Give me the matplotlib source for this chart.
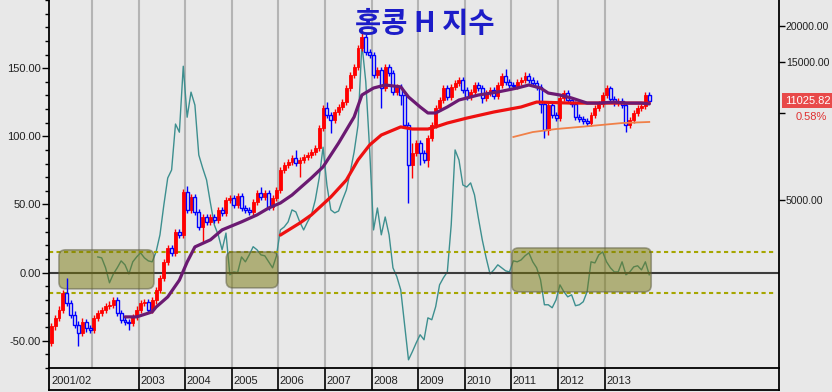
import numpy as np
import pandas as pd
import matplotlib
matplotlib.use('Agg')
import matplotlib.pyplot as plt
from matplotlib.patches import FancyBboxPatch, Rectangle

# ---------------- data ----------------
months = pd.period_range('2001-02', '2013-12', freq='M')

opens = [1600, 1830, 1950, 2080, 2380, 2200, 2000, 1850, 1730, 1890, 1800,
         1780, 1950, 2030, 2080, 2150, 2170, 2250, 2030, 1920, 1890, 1880, 1970,
         2080, 2200, 2220, 2080, 2250, 2440, 2690, 3050, 3410, 3280, 3870, 3780,
         5330, 4620, 5120, 4540, 4030, 4370, 4200, 4370, 4260, 4620, 4510, 5000,
         5080, 4810, 5160, 4690, 4620, 4540, 4920, 5290, 5120, 5290, 4730, 5080,
         5420, 6350, 6610, 6770, 6990, 6720, 6880, 7050, 7160, 7330, 7560, 8870,
         10400, 9840, 9460, 10080, 10490, 10910, 12200, 13540, 14430, 16780, 18320, 16260,
         15880, 13540, 14090, 12200, 14430, 13750, 11820, 12310, 11540, 9090, 6610, 7270,
         7870, 7270, 6880, 8190, 9090, 10400, 11090, 12200, 11360, 12310, 12700, 13010,
         12010, 11360, 11820, 12500, 12200, 11270, 11720, 12010, 11450, 12500, 13430, 12800,
         12500, 12400, 12800, 13010, 13430, 13010, 12700, 12310, 10750, 8730, 10660, 9840,
         9600, 11270, 11720, 11090, 10750, 9690, 9530, 9380, 9230, 9840, 10400, 10750,
         11540, 12200, 11180, 10820, 11000, 10660, 9090, 9460, 10000, 10400, 10570, 11500]

highs = [1880, 2000, 2150, 2450, 2690, 2260, 2060, 1900, 1950, 1940, 1850,
         2000, 2080, 2130, 2200, 2230, 2310, 2300, 2080, 1970, 1940, 2020, 2140,
         2260, 2270, 2280, 2310, 2500, 2750, 3120, 3490, 3500, 3960, 3980, 5450,
         5590, 5250, 5250, 4650, 4480, 4480, 4480, 4480, 4740, 4740, 5130, 5200,
         5200, 5290, 5300, 4800, 4740, 5040, 5420, 5540, 5420, 5420, 5200, 5560,
         6500, 6780, 6940, 7170, 7450, 7050, 7230, 7340, 7510, 7750, 9100, 10650,
         10910, 10100, 10330, 10750, 11180, 12500, 13880, 14800, 17200, 19370, 18700, 16700,
         16200, 14450, 14450, 14800, 14800, 14100, 12620, 12620, 11830, 9320, 7870, 8070,
         8070, 7450, 8400, 9320, 10660, 11370, 12500, 12500, 12620, 13020, 13340, 13340,
         12310, 12120, 12820, 12820, 12510, 12020, 12310, 12310, 12820, 13770, 14200, 13120,
         12820, 13120, 13340, 13870, 13770, 13340, 13020, 12620, 11020, 10930, 10930, 10090,
         11550, 12020, 12020, 11370, 11020, 9930, 9770, 9620, 10090, 10660, 11020, 11830,
         12510, 12400, 11460, 11280, 11280, 10930, 9700, 10250, 10660, 10840, 11790, 11790]

lows = [1560, 1780, 1900, 2030, 2140, 1950, 1800, 1560, 1690, 1750, 1730,
        1730, 1900, 1980, 2030, 2100, 2120, 1980, 1870, 1840, 1780, 1830, 1920,
        2030, 2140, 2030, 2030, 2190, 2380, 2620, 2970, 3190, 3190, 3680, 3680,
        4500, 4500, 4420, 3930, 3580, 4090, 4090, 4150, 4150, 4390, 4390, 4870,
        4690, 4690, 4570, 4500, 4420, 4420, 4790, 4990, 4990, 4610, 4610, 4950,
        5280, 6190, 6440, 6600, 6550, 6010, 6700, 6870, 6980, 7140, 7370, 8640,
        9590, 8520, 9220, 9820, 10220, 10630, 11890, 13190, 14060, 16350, 15840, 15470,
        13190, 13190, 10400, 11890, 13400, 11520, 11520, 10660, 8860, 4880, 5960, 7080,
        6610, 6700, 6510, 7980, 8860, 10130, 10810, 11070, 11070, 11990, 12370, 11700,
        11070, 11070, 11520, 11890, 10820, 10980, 11420, 11160, 11160, 12180, 12470, 12180,
        12080, 12080, 12470, 12680, 12680, 12370, 12000, 9990, 8190, 8400, 9590, 9350,
        9350, 10980, 10810, 10470, 9440, 9290, 9140, 8990, 8990, 9590, 10130, 10470,
        11240, 10890, 10540, 10540, 10390, 8590, 8860, 9220, 9740, 10130, 10300, 10740]

closes = [1830, 1950, 2080, 2380, 2200, 2000, 1850, 1730, 1890, 1800, 1780,
          1950, 2030, 2080, 2150, 2170, 2250, 2030, 1920, 1890, 1880, 1970, 2080,
          2200, 2220, 2080, 2250, 2440, 2690, 3050, 3410, 3280, 3870, 3780, 5330,
          4620, 5120, 4540, 4030, 4370, 4200, 4370, 4260, 4620, 4510, 5000, 5080,
          4810, 5160, 4690, 4620, 4540, 4920, 5290, 5120, 5290, 4730, 5080, 5420,
          6350, 6610, 6770, 6990, 6720, 6880, 7050, 7160, 7330, 7560, 8870, 10400,
          9840, 9460, 10080, 10490, 10910, 12200, 13540, 14430, 16780, 18320, 16260, 15880,
          13540, 14090, 12200, 14430, 13750, 11820, 12310, 11540, 9090, 6610, 7270, 7870,
          7270, 6880, 8190, 9090, 10400, 11090, 12200, 11360, 12310, 12700, 13010, 12010,
          11360, 11820, 12500, 12200, 11270, 11720, 12010, 11450, 12500, 13430, 12800, 12500,
          12400, 12800, 13010, 13430, 13010, 12700, 12310, 10750, 8730, 10660, 9840, 9600,
          11270, 11720, 11090, 10750, 9690, 9530, 9380, 9230, 9840, 10400, 10750, 11540,
          12200, 11180, 10820, 11000, 10660, 9090, 9460, 10000, 10400, 10570, 11500, 11025.82]

# oscillator (left axis), monthly from 2002-02
osc_months = pd.period_range('2002-02', '2013-12', freq='M')
osc_vals = [11.5, 10.8, 3.5, -7.5, -1, 3.5, 8.6, 5.7, -1, 7.9, 11.5,
            14.5, 10.8, 8.6, 7.9, 15.2, 27.7, 49.6, 69.4, 75.3, 109, 103, 151.4,
            114, 132.4, 122.9, 86.3, 76.7, 68, 51, 35, 27.7, 16.7, 29, -1.6,
            0.5, 0, 11.5, 7.9, 13, 19, 16.7, 13, 12.3, 7.9, 3.5, 12.3,
            31.3, 33.5, 37.2, 46, 44.5, 37.2, 31.3, 37.2, 42.3, 53.3, 69.4, 92,
            64, 46, 43.8, 45.2, 53.3, 60.6, 73.8, 88.5, 108, 168, 140, 90,
            31.3, 47.4, 27.7, 40.8, 27.7, 3.5, -3, -12.6, -38.3, -64, -58, -51.5,
            -45.6, -49.3, -33.2, -34.6, -25, -9, -3.8, 0.5, 35, 90, 82.6, 64.3,
            62.8, 65.8, 57, 40, 24, 10.8, -1, 2, 5.7, 3.5, 1.3, 0.5,
            8.6, 7.9, 9.3, 12.3, 14.5, 7.9, 3.5, -5.3, -23.6, -23.6, -25.8, -20,
            -9, -14, -17.8, -16.3, -24.3, -23.6, -21.4, -14, 7.9, 7.1, 13, 15.2,
            7.9, 3.5, 0.5, 0.5, 7.9, -1.6, 0.5, 4.2, 5, 2, 7.9, -1.6]

# moving-average lines (price axis)
pur_dates = ['2002-09', '2002-12', '2003-04', '2003-05', '2003-08', '2003-11', '2004-01', '2004-03',
             '2004-07', '2004-10', '2005-03', '2005-07', '2005-10', '2006-01', '2006-04', '2006-09',
             '2006-12', '2007-04', '2007-08', '2007-10', '2008-01', '2008-04', '2008-08', '2008-10',
             '2009-01', '2009-03', '2009-05', '2009-08', '2009-11', '2010-04', '2010-09', '2011-02',
             '2011-05', '2011-08', '2011-10', '2012-01', '2012-04', '2012-08', '2012-11', '2013-03',
             '2013-06', '2013-10', '2013-12']
pur_vals = [1970, 1970, 2050, 2130, 2310, 2640, 3050, 3440, 3640, 3940, 4200, 4440, 4690, 4880,
            5200, 5960, 6510, 7870, 9690, 11540, 12200, 12500, 12310, 11360, 10490, 10000, 10000,
            10490, 11090, 11540, 11820, 12200, 12500, 12200, 11720, 11540, 11270, 10820, 10820,
            10910, 10820, 10820, 10750]

red_dates = ['2006-01', '2006-06', '2006-09', '2007-02', '2007-06', '2007-09', '2007-12', '2008-03',
             '2008-08', '2008-11', '2009-03', '2009-05', '2009-08', '2010-01', '2010-08', '2011-03',
             '2011-07', '2012-04', '2013-01', '2013-12']
red_vals = [3780, 4160, 4440, 5120, 5860, 6880, 7750, 8390, 8950, 8800, 8800, 8950, 9230, 9600,
            10080, 10490, 10910, 10820, 10820, 10820]

org_dates = ['2011-01', '2011-06', '2011-12', '2012-09', '2013-05', '2013-12']
org_vals = [8260, 8590, 8800, 9020, 9230, 9310]

year_labels = ['2001/02', '2003', '2004', '2005', '2006', '2007', '2008', '2009',
               '2010', '2011', '2012', '2013']
left_ticks = [-50, 0, 50, 100, 150]
right_ticks = [5000, 10000, 15000, 20000]
right_labels = ['5000.00', '', '15000.00', '20000.00']
last_price = '11025.82'
last_change = '0.58%'
title = '홍콩 H 지수'

# ---------------- helpers ----------------
def to_t(periods):
    return np.array([p.year + (p.month - 0.5) / 12.0 for p in periods])

def str_t(strs):
    return to_t([pd.Period(s, freq='M') for s in strs])

W, H = 832, 392
BG = '#e8e8e8'
fig = plt.figure(figsize=(W / 100, H / 100), dpi=100, facecolor=BG)
plt.rcParams['font.family'] = ['Liberation Sans', 'DejaVu Sans']

def fx(p):
    return p / W

def fy(p):
    return 1 - p / H

L, R, T, B = 49, 779, 0, 368
PX_YEAR = 46.6
x0 = 2002 - (92 - L) / PX_YEAR
x1 = 2002 + (R - 92) / PX_YEAR

ax = fig.add_axes([fx(L), fy(B), (R - L) / W, (B - T) / H])
ax.set_facecolor(BG)
ax.set_xlim(x0, x1)
ax.set_ylim(-70, 200)
for s in ['top', 'right', 'bottom']:
    ax.spines[s].set_visible(False)
ax.spines['left'].set_linewidth(1.3)
ax.set_xticks([])
ax.set_yticks(left_ticks)
ax.set_yticklabels(['%.2f' % v for v in left_ticks], fontsize=8, color='#202020')
ax.set_yticks(np.arange(-70, 201, 10), minor=True)
ax.tick_params(axis='y', which='major', direction='out', length=5, width=1, pad=1)
ax.tick_params(axis='y', which='minor', direction='out', length=3, width=1)

# year gridlines
for yr in range(2002, 2014):
    ax.axvline(yr, color='#b4b4b4', lw=1.5, zorder=0.5)

# oscillator
ax.plot(to_t(osc_months), osc_vals, color='#3d8f8f', lw=1.0, zorder=2)
ax.axhline(0, color='#3c3c3c', lw=1.5, zorder=2.5)
dash_xmax = (776 - L) / (R - L)
for lv in (15, -15):
    ax.axhline(lv, xmax=dash_xmax, color='#a6a600', lw=1.5, ls=(0, (2, 1.6)), zorder=2.5)

# range boxes
aspect = PX_YEAR / ((B - T) / 270.0)
boxes = [(2001.29, 2003.33, -11.9, 16.7), (2004.88, 2005.99, -11.2, 15.2), (2011.01, 2014.0, -14.1, 18.1)]
for xa, xb, ya, yb in boxes:
    p = FancyBboxPatch((xa, ya), xb - xa, yb - ya,
                       boxstyle='round,pad=0,rounding_size=0.14', mutation_aspect=aspect,
                       facecolor='#77770c', alpha=0.5, edgecolor='#5a5a40', lw=1.2, zorder=3)
    ax.add_patch(p)

# price axis (log)
ax2 = ax.twinx()
ax2.set_yscale('log')
ax2.set_ylim(1311, 24600)
ax2.patch.set_visible(False)
for s in ['top', 'left', 'bottom']:
    ax2.spines[s].set_visible(False)
ax2.spines['right'].set_linewidth(1.3)
ax2.yaxis.set_minor_locator(matplotlib.ticker.NullLocator())
ax2.set_yticks(right_ticks)
ax2.set_yticklabels(right_labels, fontsize=7.6, color='#202020')
ax2.tick_params(axis='y', which='major', direction='out', length=4, width=1, pad=1)

t = to_t(months)
o = np.array(opens, float)
h = np.array(highs, float)
l = np.array(lows, float)
c = np.array(closes, float)
up = c >= o
cw = 0.064
ax2.vlines(t[up], l[up], h[up], colors='#ff0000', lw=1.0, zorder=3)
ax2.vlines(t[~up], l[~up], h[~up], colors='#0000ff', lw=1.0, zorder=3)
ax2.bar(t[up], c[up] - o[up], bottom=o[up], width=cw, color='#ff0000',
        edgecolor='#ff0000', lw=0.6, zorder=4)
ax2.bar(t[~up], o[~up] - c[~up], bottom=c[~up], width=cw, facecolor=BG,
        edgecolor='#0000ff', lw=1.0, zorder=4)

ax2.plot(str_t(red_dates), red_vals, color='#ee1010', lw=2.3, zorder=5, solid_capstyle='round')
ax2.plot(str_t(pur_dates), pur_vals, color='#6b1a72', lw=2.3, zorder=5.5, solid_capstyle='round')
ax2.plot(str_t(org_dates), org_vals, color='#f08048', lw=1.3, zorder=5)

# date bar
dax = fig.add_axes([fx(L), fy(390), (R - L) / W, 22 / H])
dax.set_facecolor(BG)
dax.set_xlim(x0, x1)
dax.set_ylim(0, 1)
dax.set_xticks([])
dax.set_yticks([])
for s in dax.spines.values():
    s.set_linewidth(1.3)
for yr in range(2003, 2014):
    dax.axvline(yr, color='black', lw=1.2)
label_x = [2001.09] + [float(y) for y in range(2003, 2014)]
for xv, lab in zip(label_x, year_labels):
    dax.text(xv + 0.03, 0.42, lab, fontsize=8, color='#202020', ha='left', va='center')

# title
fig.text(fx(425), fy(24), title, ha='center', va='center', fontsize=20.5, color='#1c1cc8',
         family=['Noto Sans CJK KR', 'DejaVu Sans'], fontweight='bold')

# last price tag
fig.patches.append(Rectangle((fx(782), fy(108)), fx(60), 15 / H, transform=fig.transFigure,
                             facecolor='#e84a4a', edgecolor='none', figure=fig))
fig.text(fx(785), fy(100.5), last_price, color='white', fontsize=8, ha='left', va='center')
fig.text(fx(811), fy(116.5), last_change, color='#e03030', fontsize=8, ha='center', va='center')

fig.savefig('out.png', dpi=100, facecolor=BG)
